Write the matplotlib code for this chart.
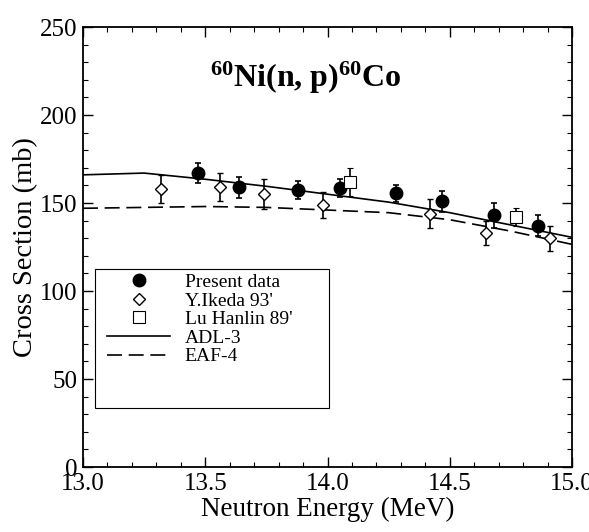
import numpy as np
import matplotlib
matplotlib.use('Agg')
import matplotlib.pyplot as plt
from matplotlib.patches import Rectangle
from matplotlib.ticker import MultipleLocator, FormatStrFormatter

plt.rcParams['font.family'] = ['Liberation Serif', 'DejaVu Serif']
plt.rcParams['mathtext.fontset'] = 'custom'
plt.rcParams['mathtext.rm'] = 'Liberation Serif'
plt.rcParams['mathtext.bf'] = 'Liberation Serif:bold'
plt.rcParams['mathtext.default'] = 'bf'

# measured cross sections, 60Ni(n,p)60Co
present_E = [13.47, 13.64, 13.88, 14.05, 14.28, 14.47, 14.68, 14.86]
present_xs = [167, 159, 157.5, 158.5, 155.5, 151, 143, 137]
present_err = [5.5, 6, 5, 5, 5, 6, 7, 6]

ikeda_E = [13.32, 13.56, 13.74, 13.98, 14.42, 14.65, 14.91]
ikeda_xs = [158, 159, 155, 149, 144, 133, 130]
ikeda_err = [8, 8, 8.5, 7.5, 8, 7, 7]

lu_E = [14.09, 14.77]
lu_xs = [162, 142]
lu_err = [8, 5]

# evaluated data
eval_E = [13.0, 13.25, 13.5, 13.75, 14.0, 14.25, 14.5, 14.75, 15.0]
adl3_xs = [166, 167, 163.5, 159.5, 155, 150.5, 144.5, 137.5, 130.5]
eaf4_xs = [147, 147.5, 148, 147.5, 146, 144.5, 140.5, 134, 126.5]

fig = plt.figure(figsize=(5.89, 5.32), dpi=100)
ax = fig.add_axes([83/589., 1-467/532., 489/589., 440/532.])

ax.plot(eval_E, adl3_xs, 'k-', lw=1.2, label='ADL-3')
ax.plot(eval_E, eaf4_xs, 'k', ls=(0, (9, 4)), lw=1.2, label='EAF-4')

h1 = ax.errorbar(present_E, present_xs, yerr=present_err, fmt='o', color='k',
                 ms=9, capsize=2.5, elinewidth=1.2, capthick=1.2, label='Present data')
h2 = ax.errorbar(ikeda_E, ikeda_xs, yerr=ikeda_err, fmt='D', color='k', mfc='white',
                 ms=6.5, mew=1.0, capsize=2.5, elinewidth=1.2, capthick=1.2, label="Y.Ikeda 93'")
h3 = ax.errorbar(lu_E, lu_xs, yerr=lu_err, fmt='s', color='k', mfc='white',
                 ms=9, mew=0.8, capsize=2.5, elinewidth=1.2, capthick=1.2, label="Lu Hanlin 89'")

ax.set_xlim(13.0, 15.0)
ax.set_ylim(0, 250)
ax.xaxis.set_major_locator(MultipleLocator(0.5))
ax.xaxis.set_minor_locator(MultipleLocator(0.1))
ax.yaxis.set_major_locator(MultipleLocator(50))
ax.yaxis.set_minor_locator(MultipleLocator(10))
ax.xaxis.set_major_formatter(FormatStrFormatter('%.1f'))
ax.tick_params(which='both', direction='in', top=True, right=True, labelsize=18)
ax.tick_params(which='major', length=7, width=1.0, pad=4)
ax.tick_params(which='minor', length=3.5, width=0.8)
for s in ax.spines.values():
    s.set_linewidth(1.3)

ax.set_xlabel('Neutron Energy (MeV)', fontsize=19.5, labelpad=2)
ax.set_ylabel('Cross Section (mb)', fontsize=20.5, labelpad=1)

ax.text(0.456, 0.885, r'$^{60}$Ni(n, p)$^{60}$Co', transform=ax.transAxes,
        ha='center', va='center', fontsize=23, fontweight='bold')

lines = ax.get_lines()
handles = [h1[0], h2[0], h3[0], lines[0], lines[1]]
labels = ['Present data', "Y.Ikeda 93'", "Lu Hanlin 89'", 'ADL-3', 'EAF-4']
leg = ax.legend(handles, labels, loc='upper left', bbox_to_anchor=(0.049, 0.44),
                frameon=False, fontsize=14, borderpad=0, borderaxespad=0,
                handlelength=3.25, handletextpad=0.75, labelspacing=0.05)
ax.add_patch(Rectangle((0.0245, 0.134), 0.479, 0.316, transform=ax.transAxes,
                       fill=False, lw=0.8, ec='k', zorder=5))

fig.savefig('out.png', dpi=100)
